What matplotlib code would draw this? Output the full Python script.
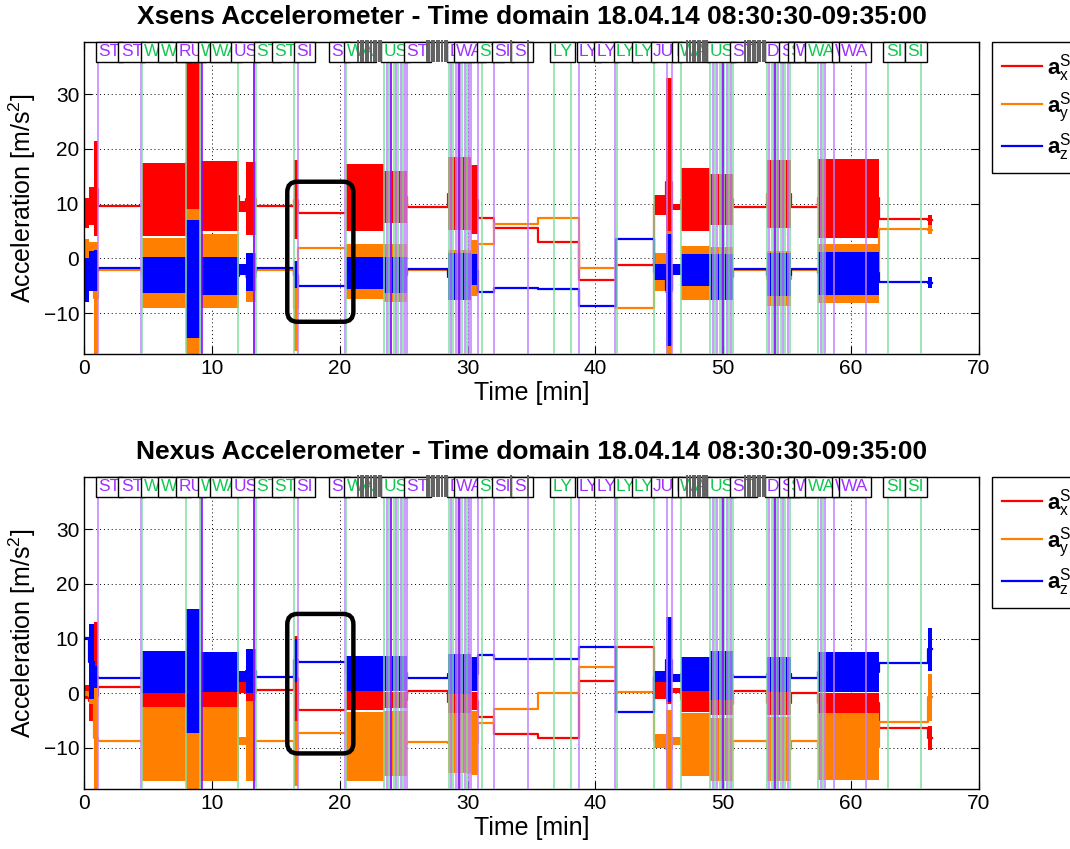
import matplotlib
matplotlib.use("Agg")
import matplotlib.pyplot as plt
import matplotlib.transforms as mtransforms
from matplotlib.patches import FancyBboxPatch

plt.rcParams["font.family"] = ["Liberation Sans", "DejaVu Sans"]
plt.rcParams["mathtext.fontset"] = "custom"
plt.rcParams["mathtext.rm"] = "Liberation Sans"
plt.rcParams["mathtext.bf"] = "Liberation Sans:bold"
plt.rcParams["mathtext.it"] = "Liberation Sans:italic"

# activity segments [min], common to both sensors
seg_t0 = [0.0, 0.4, 0.8, 1.1, 4.5, 8.0, 9.1, 12.1, 12.7, 13.45, 16.4, 16.7, 20.5,
          23.5, 25.3, 28.5, 30.3, 30.8, 32.07, 35.5, 38.7, 41.6, 44.6, 45.5, 46.0,
          46.7, 49.0, 50.8, 53.4, 55.3, 57.4, 62.2, 66.0]
seg_t1 = seg_t0[1:] + [66.35]

# per segment signal envelope (low / high) in m/s^2; low == high for still phases
xs_ax_lo = [5.5, 6, 4, 9.5, 4, -5, 5, 8.5, 4.2, 9.5, 3.5, 8.2, 5, 6.4, 9.4, 5.1, 4.5,
            7.3, 5.6, 3.0, -3.9, -1.2, 8, -5, 8.8, 5, 6.1, 9.4, 5.5, 9.4, 3.7, 7.1, 6]
xs_ax_hi = [11, 13, 21.5, 9.5, 17.5, 40, 17.8, 10.5, 17.6, 9.5, 18, 8.2, 17.2, 16, 9.4,
            18.5, 17, 7.3, 5.6, 3.0, -3.9, -1.2, 11.5, 33, 10, 16.5, 15.5, 9.4, 17.9, 9.4,
            18.2, 7.1, 8]
xs_ay_lo = [-0.5, -1, -17.5, -2.1, -9, -17.5, -9, -3, -8, -2.1, -17, 1.8, -7.5, -8, -2.1,
            -7.2, -6.9, 2.6, 6.2, 7.45, -1.8, -9.1, -6, -17.5, -3, -7.6, -7.5, -2.1, -8.8,
            -2.1, -8.1, 5.3, 4.5]
xs_ay_hi = [3.5, 3, 3, -2.1, 3.8, 9, 4.5, -1, 1, -2.1, -1, 1.8, 2.7, 2.7, -2.1, 1.6, 3.4,
            2.6, 6.2, 7.45, -1.8, -9.1, 1, 5, -1, 2.2, 2, -2.1, 1.4, -2.1, 2.7, 5.3, 6]
xs_az_lo = [-8, -6, -6, -1.8, -6.4, -14.5, -6.7, -3, -6, -1.8, -5.5, -5.0, -5.6, -6.4,
            -1.9, -7.6, -4.8, -6.1, -5.5, -5.6, -8.7, 3.5, -4, -16, -3, -5.0, -7.6, -2.0,
            -6.9, -2.0, -6.7, -4.4, -5.5]
xs_az_hi = [0, 1.3, 1.5, -1.8, 0.3, 7, 0.3, -1, 1, -1.8, -0.5, -5.0, 0.3, 0.3, -1.9, 0.9,
            0.7, -6.1, -5.5, -5.6, -8.7, 3.5, -1, 4.5, -1, 0.7, 0.7, -2.0, 0.9, -2.0, 1.2,
            -4.4, -3.5]

nx_ax_lo = [-1, -5, -14, 1.1, -3, -3, -3, 0, -3, 0.6, -5, -3.0, -3, -2.7, 0.4, -3.7, -3,
            -4.3, -7.4, -8.2, 2.2, 8.5, -1, -2, 0, -3.4, -4, 0.4, -4, 0.1, -3.7, -6.4, -10.4]
nx_ax_hi = [1.5, 2, 13, 1.1, 3, 3, 3, 2, 3, 0.6, 10.5, -3.0, 0.9, 0.3, 0.4, 0.4, 0.3, -4.3,
            -7.4, -8.2, 2.2, 8.5, 2, 2, 1, 1.2, 0, 0.4, 0.5, 0.1, 0.1, -6.4, -6]
nx_ay_lo = [-0.5, -2, -17.5, -8.7, -16, -17.5, -16, -9.5, -16, -8.7, -17, -7.2, -16,
            -15.2, -8.85, -14.6, -15, -5.4, -2.8, 0.0, 4.8, 0.2, -10, -17.5, -9.5, -15.2,
            -16, -8.8, -16, -8.8, -15.8, -5.2, -5]
nx_ay_hi = [0.5, 1, 1, -8.7, -2.5, -2.5, -2.5, -8, -1.5, -8.7, -5, -7.2, -3.5, -3.3, -8.85,
            -3.7, -3.3, -5.4, -2.8, 0.0, 4.8, 0.2, -7.5, -3, -8, -3.7, -4.6, -8.8, -4.3,
            -8.8, -3.7, -5.2, 3.6]
nx_az_lo = [10.1, -1, 1, 2.7, 0, -7.3, 0.3, 2, 0, 2.9, 2, 5.8, 0.5, 0.5, 2.85, -0.1, 0.5,
            7.0, 6.2, 6.2, 8.5, -3.4, 2, -1.6, 2, 0.5, -1.2, 2.9, 0.3, 2.85, 0.3, 5.5, 4]
nx_az_hi = [10.1, 12.6, 5, 2.7, 7.8, 15.4, 7.6, 4, 8, 2.9, 10, 5.8, 6.9, 6.9, 2.85, 7.2,
            6.6, 7.0, 6.2, 6.2, 8.5, -3.4, 4, 13.9, 3.5, 6.6, 7.8, 2.9, 6.6, 2.85, 7.5, 5.5,
            12]

# activity change markers [min]
purple_t = [1.07, 4.45, 9.18, 13.3, 16.72, 20.45, 30.84, 32.07, 34.7, 38.7, 41.53, 45.57,
            46.0, 57.65, 57.95, 58.7, 61.2,
            23.68, 24.04, 24.40, 24.76, 25.12, 25.27, 28.70, 29.06, 29.42, 29.78, 30.14,
            30.30, 49.18, 49.54, 49.90, 50.26, 50.62, 53.60, 53.96, 54.32, 54.68, 55.04]
green_t = [4.52, 8.0, 9.1, 12.07, 13.48, 16.45, 20.52, 31.1, 36.76, 38.06, 41.7, 44.58,
           46.67, 57.4, 57.8, 62.86, 65.5,
           23.50, 23.86, 24.22, 24.58, 24.94, 28.52, 28.88, 29.24, 29.60, 29.96,
           49.0, 49.36, 49.72, 50.08, 50.44, 50.8, 53.42, 53.78, 54.14, 54.50, 54.86, 55.25]
dark_t = [9.2, 13.32, 24.0, 29.3, 50.0, 54.05]

# activity labels shown along the top
label_t = [1.0, 2.76, 4.54, 5.89, 7.25, 9.02, 9.91, 11.55, 13.37, 14.76, 16.5, 19.24,
           20.41, 23.3, 25.1, 28.5, 29.0, 30.8, 32.0, 33.5, 36.5, 38.6, 40.0, 41.5, 42.9,
           44.4, 46.1, 46.5, 48.8, 50.6, 53.3, 54.4, 55.1, 55.6, 56.5, 58.6, 59.1, 62.6,
           64.3]
label_s = ["ST", "ST", "WA", "WA", "RU", "WA", "WA", "US", "ST", "ST", "SI", "SI", "WA",
           "US", "ST", "DS", "WA", "ST", "SI", "SI", "LY", "LY", "LY", "LY", "LY", "JU",
           "I", "WA", "US", "ST", "DS", "SI", "ST", "WA", "WA", "WA", "WA", "SI", "SI"]
label_kind = ["p", "p", "g", "g", "p", "g", "g", "p", "g", "g", "p", "p", "g", "g", "p",
              "p", "p", "g", "p", "p", "g", "p", "p", "g", "g", "p", "p", "g", "g", "p",
              "p", "p", "g", "p", "g", "p", "p", "g", "g"]
# short transition labels packed together
strip_t = [21.45, 21.65, 21.85, 22.05, 22.25, 22.45, 22.65, 22.85, 23.05, 23.25,
           26.8, 27.0, 27.2, 27.4, 27.6, 27.8, 28.0, 28.2, 28.4, 33.4, 34.75,
           47.2, 47.4, 47.6, 47.8, 48.0, 48.2, 48.4, 48.6, 48.75,
           51.7, 51.9, 52.1, 52.3, 52.5, 52.7, 52.9, 53.1, 53.25]

COLORS = ["#ff0000", "#ff8000", "#0000ff"]
LABELS = [r"$\mathbf{a}_\mathrm{x}^\mathrm{S}$", r"$\mathbf{a}_\mathrm{y}^\mathrm{S}$",
          r"$\mathbf{a}_\mathrm{z}^\mathrm{S}$"]
TXT = {"p": "#a030ff", "g": "#10c850"}
YLIM = (-17.5, 39.6)


def draw_panel(ax, title, lows, highs, box):
    for lo, hi, col, lab in zip(lows, highs, COLORS, LABELS):
        xs, ys = [], []
        for t0, t1, a, b in zip(seg_t0, seg_t1, lo, hi):
            xs += [t0, t1]
            ys += [(a + b) / 2, (a + b) / 2]
        ax.plot(xs, ys, color=col, lw=1.6, label=lab, zorder=2)
        h = [b - a for a, b in zip(lo, hi)]
        w = [t1 - t0 for t0, t1 in zip(seg_t0, seg_t1)]
        ax.bar(seg_t0, h, width=w, bottom=lo, align="edge", color=col, lw=0, zorder=2)

    ax.vlines(purple_t, *YLIM, colors="#c080ff", lw=1.1, zorder=3)
    ax.vlines(green_t, *YLIM, colors="#80e0a0", lw=1.1, zorder=3)
    ax.vlines(dark_t, *YLIM, colors="#8a00ff", lw=1.1, zorder=3)

    # highlighted sitting phase
    ax.add_patch(FancyBboxPatch((box[0], box[2]), box[1] - box[0], box[3] - box[2],
                                boxstyle="round,pad=0,rounding_size=0.8",
                                mutation_aspect=2.34, fill=False, ec="black", lw=3.2,
                                zorder=4))

    trans = mtransforms.blended_transform_factory(ax.transData, ax.transAxes)
    for i, (t, s, k) in enumerate(zip(label_t, label_s, label_kind)):
        ax.text(t + 0.12, 0.967, s, transform=trans, ha="left", va="center",
                fontsize=12.5, color=TXT[k], clip_on=False, zorder=10 + i,
                bbox=dict(boxstyle="square,pad=0.14", fc="white", ec="black", lw=1))
    ax.vlines(strip_t, 0.935, 1.006, transform=trans, colors="#606060", lw=1.4,
              clip_on=False, zorder=60)

    ax.set_xlim(0, 70)
    ax.set_ylim(*YLIM)
    ax.set_xticks(range(0, 71, 10))
    ax.set_yticks([-10, 0, 10, 20, 30])
    ax.grid(True, color="black", linestyle=(0, (1, 3)), lw=0.7)
    ax.set_axisbelow(True)
    ax.tick_params(direction="in", top=True, right=True, length=6, labelsize=15)
    for sp in ax.spines.values():
        sp.set_linewidth(1.0)
    ax.set_xlabel("Time [min]", fontsize=18, labelpad=2)
    ax.set_ylabel("Acceleration [m/s$^2$]", fontsize=18, labelpad=4)
    ax.set_title(title, fontsize=19, fontweight="bold", pad=13)
    leg = ax.legend(loc="upper left", bbox_to_anchor=(1.0145, 1.0), borderaxespad=0,
                    fancybox=False, edgecolor="black", framealpha=1, fontsize=16,
                    handlelength=1.8, handletextpad=0.25, labelspacing=0.3,
                    borderpad=0.45)
    leg.get_frame().set_linewidth(1.0)


fig = plt.figure(figsize=(10.70, 8.49), dpi=100)
ax1 = fig.add_axes([0.0785, 0.583, 0.8364, 0.3679])
ax2 = fig.add_axes([0.0785, 0.0707, 0.8364, 0.3679])

draw_panel(ax1, "Xsens Accelerometer - Time domain 18.04.14 08:30:30-09:35:00",
           [xs_ax_lo, xs_ay_lo, xs_az_lo], [xs_ax_hi, xs_ay_hi, xs_az_hi],
           (15.9, 21.07, -11.6, 14.0))
draw_panel(ax2, "Nexus Accelerometer - Time domain 18.04.14 08:30:30-09:35:00",
           [nx_ax_lo, nx_ay_lo, nx_az_lo], [nx_ax_hi, nx_ay_hi, nx_az_hi],
           (15.9, 21.07, -11.0, 14.5))

fig.savefig("out.png", dpi=100)
